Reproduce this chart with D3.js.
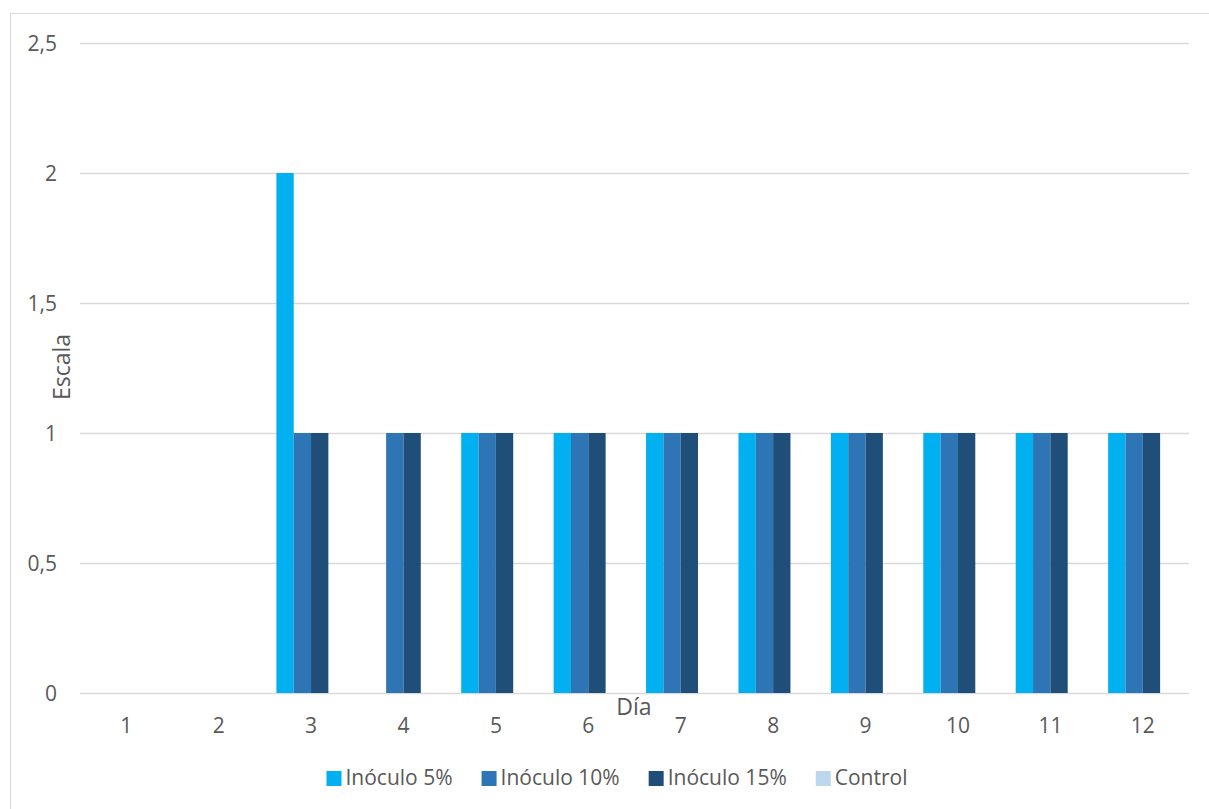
<!DOCTYPE html>
<html>
<head>
<meta charset="utf-8">
<script src="https://cdn.jsdelivr.net/npm/d3@7"></script>
<style>
  html, body { margin: 0; padding: 0; background: #fff; }
  svg { display: block; font-family: "Open Sans", sans-serif; }
</style>
</head>
<body>
<svg id="chart" width="1209" height="809"></svg>
<script>
const categories = ["1","2","3","4","5","6","7","8","9","10","11","12"];
const seriesNames = ["Inóculo 5%", "Inóculo 10%", "Inóculo 15%", "Control"];
const inoculo5  = [0,0,2,0,1,1,1,1,1,1,1,1];
const inoculo10 = [0,0,1,1,1,1,1,1,1,1,1,1];
const inoculo15 = [0,0,1,1,1,1,1,1,1,1,1,1];
const control   = [0,0,0,0,0,0,0,0,0,0,0,0];
const yTicks = [0, 0.5, 1, 1.5, 2, 2.5];
const colors = ["#00B0F0", "#2E75B6", "#1F4E79", "#BDD7EE"];

const seriesValues = [inoculo5, inoculo10, inoculo15, control];

const svg = d3.select("#chart");
const margin = {left: 80, right: 1189, top: 43, bottom: 693};
const textColor = "#595959";

// outer frame
svg.append("rect")
  .attr("x", 10.5).attr("y", 13.5)
  .attr("width", 1220).attr("height", 820)
  .attr("fill", "none").attr("stroke", "#D9D9D9").attr("stroke-width", 1);

const x0 = d3.scaleBand().domain(categories).range([margin.left, margin.right])
  .paddingInner(0.25).paddingOuter(0.125);
const x1 = d3.scaleBand().domain(seriesNames).range([0, x0.bandwidth()]);
const y = d3.scaleLinear().domain([0, 2.5]).range([margin.bottom, margin.top]);

const fmt = d => String(d).replace(".", ",");

// gridlines
svg.append("g").selectAll("line").data(yTicks).join("line")
  .attr("x1", margin.left).attr("x2", margin.right)
  .attr("y1", d => Math.round(y(d)) + 0.5).attr("y2", d => Math.round(y(d)) + 0.5)
  .attr("stroke", "#D9D9D9").attr("stroke-width", 1.3);

// bars
const data = [];
categories.forEach((c, i) => {
  seriesNames.forEach((s, j) => {
    data.push({cat: c, series: s, value: seriesValues[j][i], color: colors[j]});
  });
});
svg.append("g").selectAll("rect").data(data.filter(d => d.value > 0)).join("rect")
  .attr("x", d => x0(d.cat) + x1(d.series))
  .attr("width", x1.bandwidth())
  .attr("y", d => y(d.value))
  .attr("height", d => y(0) - y(d.value))
  .attr("fill", d => d.color);

// y axis labels
const yAxis = d3.axisLeft(y).tickValues(yTicks).tickFormat(fmt).tickSize(0).tickPadding(0);
const gy = svg.append("g").attr("transform", "translate(57,0)").call(yAxis);
gy.select(".domain").remove();
gy.selectAll("text").attr("fill", textColor).style("font-size", "21px")
  .style("font-family", "Open Sans, sans-serif").attr("dy", "0.36em");

// x axis labels
const xAxis = d3.axisBottom(x0).tickSize(0).tickPadding(0);
const gx = svg.append("g").attr("transform", "translate(0,733)").call(xAxis);
gx.select(".domain").remove();
gx.selectAll("text").attr("fill", textColor).style("font-size", "21px")
  .style("font-family", "Open Sans, sans-serif").attr("dy", null).attr("y", 0);

// axis titles
svg.append("text").attr("x", 634).attr("y", 715).attr("text-anchor", "middle")
  .attr("fill", textColor).style("font-size", "23px").text("Día");
svg.append("text").attr("transform", "translate(70,367) rotate(-90)")
  .attr("text-anchor", "middle").attr("fill", textColor).style("font-size", "23px").text("Escala");

// legend
const legend = svg.append("g");
const items = legend.selectAll("g").data(seriesNames).join("g");
items.append("rect").attr("width", 15).attr("height", 15).attr("y", -14)
  .attr("fill", (d, i) => colors[i]);
items.append("text").attr("x", 19).attr("y", 0).attr("fill", textColor)
  .style("font-size", "21px").text(d => d);
const widths = [];
items.each(function() {
  const w = d3.select(this).select("text").node().getComputedTextLength() + 19;
  widths.push(w);
});
const gap = 29;
const total = d3.sum(widths) + gap * (widths.length - 1);
let start = 617 - total / 2;
items.attr("transform", (d, i) => {
  const t = `translate(${start},785)`;
  start += widths[i] + gap;
  return t;
});
</script>
</body>
</html>
